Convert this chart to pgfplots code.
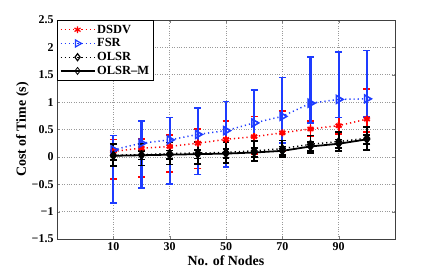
\documentclass[border=0pt]{standalone}
\usepackage{fontspec}
\setmainfont{Liberation Serif}
\usepackage{pgfplots}
\usepackage{pgfplotstable}
\pgfplotsset{compat=1.18}
\definecolor{mblue}{RGB}{30,60,255}
\tikzset{mdot/.style={dash pattern=on 1.2pt off 3pt}}
\pgfplotstableread{
x y ep em
10 0.10 0.22 0.50
20 0.16 0.17 0.53
30 0.19 0.21 0.47
40 0.25 0.26 0.46
50 0.32 0.33 0.42
60 0.37 0.37 0.32
70 0.44 0.40 0.34
80 0.51 0.14 0.14
90 0.57 0.15 0.15
100 0.69 0.55 0.24
}\dsdv
\pgfplotstableread{
x y ep em
10 0.13 0.26 0.97
20 0.25 0.40 0.82
30 0.31 0.41 0.80
40 0.41 0.48 0.73
50 0.48 0.53 0.67
60 0.62 0.60 0.52
70 0.74 0.71 0.49
80 0.98 0.84 0.36
90 1.05 0.87 0.33
100 1.06 0.88 0.33
}\fsr
\pgfplotstableread{
x y ep em
10 0.03 0.20 0.20
20 0.04 0.20 0.20
30 0.06 0.20 0.20
40 0.07 0.20 0.20
50 0.08 0.19 0.19
60 0.11 0.18 0.18
70 0.15 0.15 0.15
80 0.23 0.16 0.16
90 0.28 0.17 0.17
100 0.34 0.21 0.21
}\olsr
\pgfplotstableread{
x y ep em
10 0.02 0.08 0.08
20 0.03 0.08 0.08
30 0.04 0.08 0.08
40 0.05 0.08 0.08
50 0.06 0.08 0.08
60 0.08 0.08 0.08
70 0.11 0.08 0.08
80 0.19 0.08 0.08
90 0.24 0.08 0.08
100 0.32 0.08 0.08
}\olsrm
\begin{document}
\begin{tikzpicture}
\begin{axis}[
  scale only axis,
  width=338bp, height=219bp,
  xmin=-10, xmax=110, ymin=-1.5, ymax=2.5,
  xtick={10,30,50,70,90},
  ytick={-1.5,-1,-0.5,0,0.5,1,1.5,2,2.5},
  yticklabels={−1.5,−1,−0.5,0,0.5,1,1.5,2,2.5},
  /pgf/number format/assume math mode=true,
  tick label style={font=\fontsize{12}{14}\selectfont\bfseries},
  label style={font=\fontsize{14}{16}\selectfont\bfseries},
  xlabel={No. of Nodes},
  ylabel={Cost of Time (s)},
  xlabel style={yshift=2pt},
  ylabel style={yshift=-4pt},
  grid=major,
  grid style={dotted, gray!80, line width=0.7pt},
  tick align=inside,
  major tick length=3pt,
  axis line style={line width=1pt, black!75},
  legend style={at={(0,1)}, anchor=north west, draw=black, line width=0.8pt,
    font=\fontsize{12.5}{14}\selectfont\bfseries, row sep=0pt, inner sep=2.5pt},
  legend cell align=left,
  legend image code/.code={\draw[mark repeat=2,mark phase=2,#1] plot coordinates {(0cm,0cm) (0.6cm,0cm) (1.2cm,0cm)};},
  error bars/y dir=both, error bars/y explicit,
]
\addplot[red, mdot, line width=1.5pt, mark=asterisk, mark size=3.5pt, mark options={solid, line width=2pt},
  error bars/error bar style={solid, line width=1.8pt, red},
  error bars/error mark options={rotate=90, mark size=3.5pt, line width=1.6pt, red}, forget plot]
  table[x=x, y=y, y error plus=ep, y error minus=em] {\dsdv};
\addplot[mblue, mdot, line width=1.5pt, mark=triangle, mark size=4.5pt, mark options={solid, rotate=-90, line width=1.6pt},
  error bars/error bar style={solid, line width=2.2pt, mblue},
  error bars/error mark options={rotate=90, mark size=3.5pt, line width=1.6pt, mblue}, forget plot]
  table[x=x, y=y, y error plus=ep, y error minus=em] {\fsr};
\addplot[black, mdot, line width=1.5pt, mark=diamond*, mark size=4pt, mark options={solid, line width=1pt},
  error bars/error bar style={solid, line width=1.8pt, black},
  error bars/error mark options={rotate=90, mark size=3.5pt, line width=1.6pt, black}, forget plot]
  table[x=x, y=y, y error plus=ep, y error minus=em] {\olsr};
\addplot[black, solid, line width=1.8pt, mark=diamond*, mark size=4pt, mark options={solid, line width=1pt},
  error bars/error bar style={solid, line width=1.8pt, black},
  error bars/error mark options={rotate=90, mark size=3.5pt, line width=1.6pt, black}, forget plot]
  table[x=x, y=y, y error plus=ep, y error minus=em] {\olsrm};
\addlegendimage{red, mdot, line width=1.2pt, mark=asterisk, mark size=3.5pt, mark options={solid}}
\addlegendentry{DSDV}
\addlegendimage{mblue, mdot, line width=1.2pt, mark=triangle, mark size=4pt, mark options={solid, rotate=-90}}
\addlegendentry{FSR}
\addlegendimage{black, mdot, line width=1.2pt, mark=diamond, mark size=3.5pt, mark options={solid}}
\addlegendentry{OLSR}
\addlegendimage{black, solid, line width=1.3pt, mark=diamond, mark size=3.5pt, mark options={solid, line width=0.8pt}}
\addlegendentry{OLSR{\textendash}M}
\end{axis}
\path[use as bounding box] (-57bp,-34bp) rectangle (379bp,239bp);
\end{tikzpicture}
\end{document}
